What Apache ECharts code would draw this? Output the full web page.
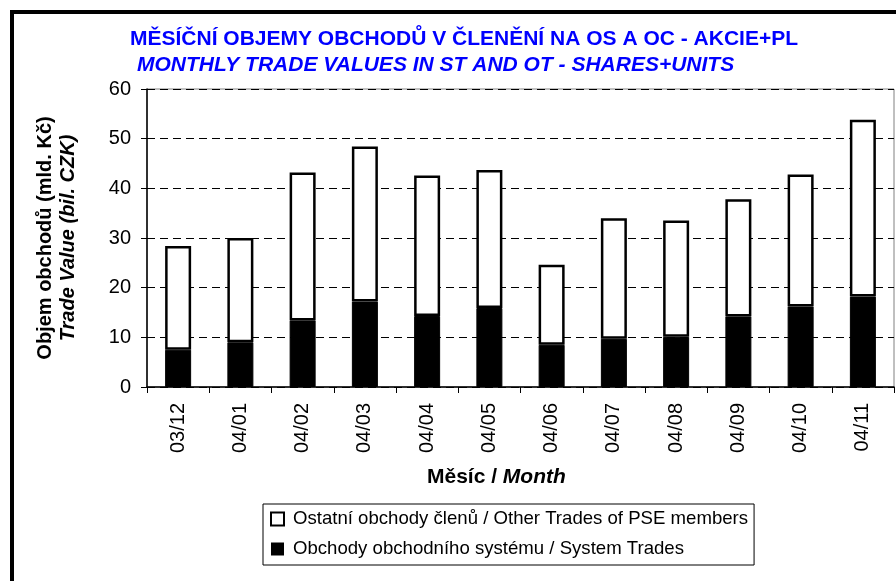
<!DOCTYPE html>
<html>
<head>
<meta charset="utf-8">
<script src="https://cdn.jsdelivr.net/npm/echarts@6/dist/echarts.min.js"></script>
<style>
html,body{margin:0;padding:0;background:#fff;}
#c{width:896px;height:581px;}
</style>
</head>
<body>
<div id="c"></div>
<script>
var months = ['03/12','04/01','04/02','04/03','04/04','04/05','04/06','04/07','04/08','04/09','04/10','04/11'];
var systemTrades = [7.5, 9.0, 13.4, 17.2, 14.3, 15.9, 8.5, 9.7, 10.1, 14.2, 16.2, 18.2];
var otherTrades = [20.9, 21.0, 29.8, 31.2, 28.3, 27.8, 16.1, 24.3, 23.4, 23.6, 26.6, 35.6];
var yTicks = [0, 10, 20, 30, 40, 50, 60];

var FONT = '"Liberation Sans", Arial, sans-serif';
var nameOther = 'Ostatní obchody členů / Other Trades of PSE members';
var nameSystem = 'Obchody obchodního systému / System Trades';

var chart = echarts.init(document.getElementById('c'));
chart.setOption({
  animation: false,
  backgroundColor: '#fff',
  textStyle: { fontFamily: FONT },
  title: [
    { text: 'MĚSÍČNÍ OBJEMY OBCHODŮ V ČLENĚNÍ NA OS A OC - AKCIE+PL', left: 130, top: 27, padding: 0,
      textStyle: { color: '#0000ff', fontSize: 21, fontWeight: 'bold', fontFamily: FONT, lineHeight: 24 } },
    { text: 'MONTHLY TRADE VALUES IN ST AND OT - SHARES+UNITS', left: 137, top: 53, padding: 0,
      textStyle: { color: '#0000ff', fontSize: 21, fontWeight: 'bold', fontStyle: 'italic', fontFamily: FONT, lineHeight: 24 } }
  ],
  grid: { left: 147, right: 2, top: 89, bottom: 194, show: true, borderColor: '#808080', borderWidth: 1, backgroundColor: 'transparent' },
  legend: {
    orient: 'vertical', left: 263, top: 504,
    padding: [5, 6, 6, 7], itemGap: 10, itemWidth: 13, itemHeight: 13,
    borderColor: '#000', borderWidth: 1, borderRadius: 0,
    icon: 'rect',
    textStyle: { fontSize: 18.6, color: '#000', fontFamily: FONT, lineHeight: 20, padding: [0, 0, 0, 4] },
    data: [
      { name: nameOther, itemStyle: { color: '#fff', borderColor: '#000', borderWidth: 2 } },
      { name: nameSystem, itemStyle: { color: '#000', borderColor: '#000', borderWidth: 0 } }
    ]
  },
  xAxis: {
    type: 'category', data: months,
    axisLine: { lineStyle: { color: '#000', width: 1.5 } },
    axisTick: { show: true, length: 6, lineStyle: { color: '#000' } },
    axisLabel: { rotate: 90, margin: 16, fontSize: 20, color: '#000', fontFamily: FONT }
  },
  yAxis: {
    type: 'value', min: 0, max: 60, interval: 10,
    name: '{a|Objem obchodů (mld. Kč)}\n{b|Trade Value (bil. CZK)}',
    nameLocation: 'middle', nameGap: 67, nameRotate: 90,
    nameTextStyle: {
      rich: {
        a: { fontSize: 20, fontWeight: 'bold', color: '#000', fontFamily: FONT, lineHeight: 23 },
        b: { fontSize: 20, fontWeight: 'bold', fontStyle: 'italic', color: '#000', fontFamily: FONT, lineHeight: 23 }
      }
    },
    axisLine: { show: true, lineStyle: { color: '#000', width: 1.5 } },
    axisTick: { show: true, length: 6, lineStyle: { color: '#000' } },
    axisLabel: { margin: 16, fontSize: 20, color: '#000', fontFamily: FONT,
      formatter: function (v) { return yTicks.indexOf(v) >= 0 ? String(v) : ''; } },
    splitLine: { show: true, lineStyle: { color: '#000', type: [8, 5], width: 1 } }
  },
  graphic: [
    { type: 'rect', shape: { x: 12, y: 12, width: 1000, height: 700 }, style: { fill: 'none', stroke: '#000', lineWidth: 4 }, silent: true, z: 100 },
    { type: 'text', left: 427, top: 467, style: { text: '{a|Měsíc / }{b|Month}', rich: {
        a: { fontSize: 21, fontWeight: 'bold', fill: '#000', fontFamily: FONT },
        b: { fontSize: 21, fontWeight: 'bold', fontStyle: 'italic', fill: '#000', fontFamily: FONT } } } }
  ],
  series: [
    { name: nameSystem, type: 'bar', stack: 'total', data: systemTrades, barWidth: 26,
      itemStyle: { color: '#000', borderColor: '#000', borderWidth: 1 } },
    { name: nameOther, type: 'bar', stack: 'total', data: otherTrades, barWidth: 26,
      itemStyle: { color: '#fff', borderColor: '#000', borderWidth: 2.5 } }
  ]
});
</script>
</body>
</html>
